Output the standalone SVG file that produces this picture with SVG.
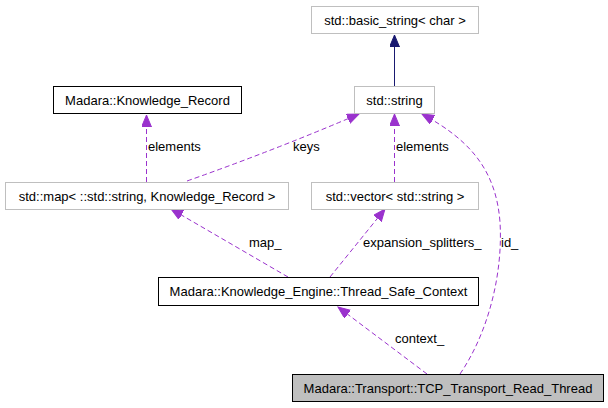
<svg xmlns="http://www.w3.org/2000/svg" width="608" height="408" viewBox="0 0 608 408">
<style>
text{font-family:"Liberation Sans",Arial,sans-serif;font-size:13px;fill:#000}
.n text{text-anchor:middle}
.ext{fill:#fff;stroke:#bfbfbf;stroke-width:1}
.doc{fill:#fff;stroke:#000;stroke-width:1}
.cur{fill:#bfbfbf;stroke:#000;stroke-width:1}
.u{fill:none;stroke:#9a32cd;stroke-width:1;stroke-dasharray:5,3}
.inh{fill:none;stroke:#191970;stroke-width:1}
</style>
<defs>
<marker id="ap" markerUnits="userSpaceOnUse" markerWidth="14" markerHeight="12" refX="12" refY="5" orient="auto"><path d="M0,0 L12,5 L0,10 Z" fill="#9a32cd" stroke="#9a32cd" stroke-width="1"/></marker>
<marker id="an" markerUnits="userSpaceOnUse" markerWidth="14" markerHeight="12" refX="12" refY="5" orient="auto"><path d="M0,0 L12,5 L0,10 Z" fill="#191970" stroke="#191970" stroke-width="1"/></marker>
</defs>
<rect width="608" height="408" fill="#fff"/>
<g id="edges">
<path class="inh" d="M394.5,86 L394.5,35" marker-end="url(#an)"/>
<path class="u" d="M146.5,182 L146.5,115" marker-end="url(#ap)"/>
<path class="u" d="M187,181 Q275,150 359,114" marker-end="url(#ap)"/>
<path class="u" d="M394.5,182 L394.5,114" marker-end="url(#ap)"/>
<path class="u" d="M460,374 C490,330 503,270 500,222 C496,170 470,140 422,114" marker-end="url(#ap)"/>
<path class="u" d="M288,277 L171,209" marker-end="url(#ap)"/>
<path class="u" d="M330,277 L385,209" marker-end="url(#ap)"/>
<path class="u" d="M427,374 L338,307" marker-end="url(#ap)"/>
<text x="148" y="151">elements</text>
<text x="293" y="151">keys</text>
<text x="396" y="151">elements</text>
<text x="249" y="247">map_</text>
<text x="363" y="247">expansion_splitters_</text>
<text x="501" y="247">id_</text>
<text x="395" y="343">context_</text>
</g>
<g id="basic_string" class="n"><rect class="ext" x="311.5" y="6.5" width="167" height="27"/><text x="395" y="24.5">std::basic_string&lt; char &gt;</text></g>
<g id="std_string" class="n"><rect class="ext" x="354.5" y="86.5" width="80" height="27"/><text x="394.5" y="104.5">std::string</text></g>
<g id="knowledge_record" class="n"><rect class="doc" x="53.5" y="86.5" width="188" height="27"/><text x="147.5" y="104.5">Madara::Knowledge_Record</text></g>
<g id="std_map" class="n"><rect class="ext" x="5.5" y="182.5" width="283" height="27"/><text x="147" y="200.5">std::map&lt; ::std::string, Knowledge_Record &gt;</text></g>
<g id="std_vector" class="n"><rect class="ext" x="311.5" y="182.5" width="167" height="27"/><text x="395" y="200.5">std::vector&lt; std::string &gt;</text></g>
<g id="thread_safe_context" class="n"><rect class="doc" x="158.5" y="277.5" width="320" height="28"/><text x="318.5" y="296">Madara::Knowledge_Engine::Thread_Safe_Context</text></g>
<g id="tcp_read_thread" class="n"><rect class="cur" x="292.5" y="374.5" width="311" height="27"/><text x="448" y="392.5">Madara::Transport::TCP_Transport_Read_Thread</text></g>
</svg>
